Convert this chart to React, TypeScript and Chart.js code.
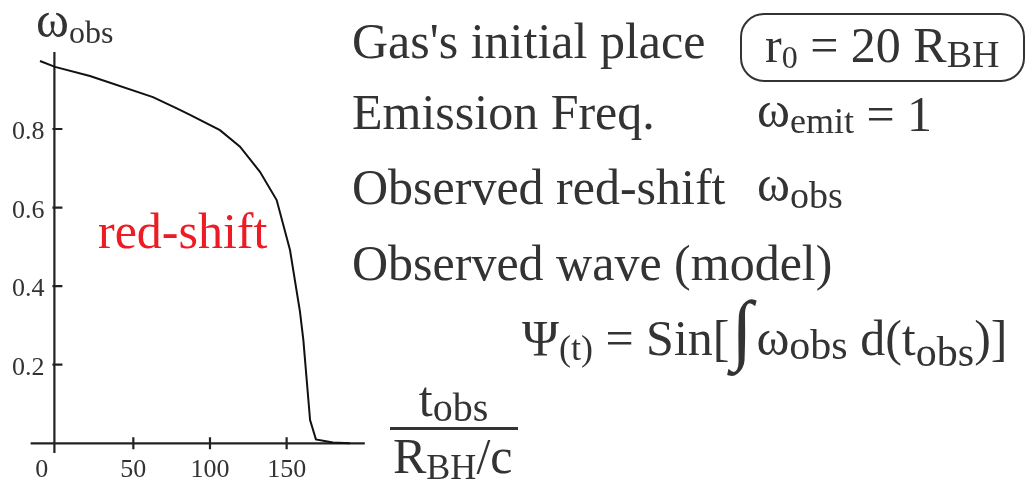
import React, { useEffect, useRef } from "react";
import { Chart, registerables } from "chart.js";

Chart.register(...registerables);

// ---- data ----
const T_OBS = [-10.9, -1.1, 21.7, 62.8, 78, 87, 106.5, 119.6, 132.6, 143.5, 152.2, 158.7, 160.9, 165.3, 169.1, 180.2, 191.2];
const OMEGA_OBS = [0.973, 0.958, 0.935, 0.881, 0.853, 0.836, 0.797, 0.755, 0.691, 0.619, 0.492, 0.335, 0.263, 0.059, 0.01, 0.002, 0.0];
const X_TICKS = [0, 50, 100, 150];
const Y_TICKS = [0.2, 0.4, 0.6, 0.8];
const X_TICK_LABELS = ["0", "50", "100", "150"];
const Y_TICK_LABELS = ["0.2", "0.4", "0.6", "0.8"];
const X_RANGE = [-1.5, 201];
const Y_RANGE = [0, 1];
const X_AXIS_START = -17;
const Y_AXIS_AT = -1.5;
const Y_AXIS_SPAN = [-0.025, 0.996];

const SERIF = '"Liberation Serif", "Times New Roman", serif';
const TEXT = "#333";

const axesPlugin = {
  id: "mathAxes",
  beforeDatasetsDraw(chart: any) {
    const { ctx, scales } = chart;
    const xs = scales.x;
    const ys = scales.y;
    const y0 = ys.getPixelForValue(0);
    const xa = xs.getPixelForValue(Y_AXIS_AT);
    ctx.save();
    ctx.strokeStyle = "#222";
    ctx.lineWidth = 2.2;
    ctx.beginPath();
    ctx.moveTo(xs.getPixelForValue(X_AXIS_START), y0);
    ctx.lineTo(xs.getPixelForValue(X_RANGE[1]), y0);
    ctx.moveTo(xa, ys.getPixelForValue(Y_AXIS_SPAN[1]));
    ctx.lineTo(xa, ys.getPixelForValue(Y_AXIS_SPAN[0]));
    for (const v of Y_TICKS) {
      const p = ys.getPixelForValue(v);
      ctx.moveTo(xa - 2, p);
      ctx.lineTo(xa + 8, p);
    }
    for (const v of X_TICKS) {
      if (v === 0) continue;
      const p = xs.getPixelForValue(v);
      ctx.moveTo(p, y0 - 6);
      ctx.lineTo(p, y0 + 6);
    }
    ctx.stroke();

    // tick labels, placed with the chart's scales
    ctx.fillStyle = TEXT;
    ctx.font = `26px ${SERIF}`;
    ctx.textBaseline = "alphabetic";
    ctx.textAlign = "right";
    Y_TICKS.forEach((v, i) => {
      ctx.fillText(Y_TICK_LABELS[i], xa - 10, ys.getPixelForValue(v) + 10);
    });
    ctx.textAlign = "center";
    X_TICKS.forEach((v, i) => {
      const shift = v === 0 ? -15 : 0; // the origin label sits left of the axis
      ctx.fillText(X_TICK_LABELS[i], xs.getPixelForValue(v) + shift, y0 + 33.5);
    });
    ctx.restore();
  },
};

function T({ x, y, size = 50, color = TEXT, children, family = SERIF }: any) {
  return (
    <div
      style={{
        position: "absolute",
        left: x,
        top: y - 0.3374 * size,
        fontSize: size,
        lineHeight: 0,
        whiteSpace: "nowrap",
        fontFamily: family,
        color,
      }}
    >
      {children}
    </div>
  );
}

function Sub({ size = 34, dy = 6, children }: any) {
  return <span style={{ fontSize: size, position: "relative", top: dy }}>{children}</span>;
}

function Up({ dy = -4, children }: any) {
  return <span style={{ position: "relative", top: dy }}>{children}</span>;
}

// a tall integral sign that does not disturb the line's baseline
function BigIntegral() {
  return (
    <span style={{ display: "inline-block", position: "relative", width: 27, height: 0 }}>
      <span style={{ position: "absolute", left: 2, top: -26, fontSize: 78, lineHeight: 0, display: "block" }}>∫</span>
    </span>
  );
}

export default function App() {
  const ref = useRef<HTMLCanvasElement | null>(null);

  useEffect(() => {
    if (!ref.current) return;
    const chart = new Chart(ref.current, {
      type: "scatter",
      data: {
        datasets: [
          {
            data: T_OBS.map((t, i) => ({ x: t, y: OMEGA_OBS[i] })),
            showLine: true,
            borderColor: "#111",
            borderWidth: 2,
            pointRadius: 0,
            tension: 0,
            clip: false as any,
          },
        ],
      },
      options: {
        animation: false,
        responsive: false,
        devicePixelRatio: 1,
        layout: { padding: { top: 50.4, right: 1027 - 364.8, left: 0, bottom: 0 } },
        plugins: { legend: { display: false }, tooltip: { enabled: false } },
        events: [],
        scales: {
          x: {
            type: "linear",
            min: X_RANGE[0],
            max: X_RANGE[1],
            border: { display: false },
            grid: { display: false, drawTicks: false },
            ticks: { display: false, stepSize: 50 },
            afterFit: (s: any) => {
              s.height = 493 - 443.3;
            },
          },
          y: {
            type: "linear",
            min: Y_RANGE[0],
            max: Y_RANGE[1],
            border: { display: false },
            grid: { display: false, drawTicks: false },
            ticks: { display: false, stepSize: 0.2 },
            afterFit: (s: any) => {
              s.width = 54.4;
            },
          },
        },
      },
      plugins: [axesPlugin],
    });
    return () => chart.destroy();
  }, []);

  return (
    <div style={{ position: "absolute", left: 0, top: 0, width: 1027, height: 493, background: "#fff", overflow: "hidden" }}>
      <canvas ref={ref} width={1027} height={493} style={{ position: "absolute", left: 0, top: 0, width: 1027, height: 493 }} />

      {/* y-axis title */}
      <T x={36} y={37} size={50}>
        ω<Sub size={32} dy={6}>obs</Sub>
      </T>

      {/* in-plot label */}
      <T x={98} y={248} size={50} color="#ed1c24">red-shift</T>

      {/* x-axis title as a fraction */}
      <div style={{ position: "absolute", left: 390, width: 127, top: 416 - 0.3374 * 50, fontSize: 50, lineHeight: 0, fontFamily: SERIF, color: TEXT, whiteSpace: "nowrap", textAlign: "center" }}>
        t<Sub size={40} dy={5}>obs</Sub>
      </div>
      <div style={{ position: "absolute", left: 390, top: 427, width: 128, height: 3, background: TEXT }} />
      <T x={393} y={473} size={50}>
        R<Sub size={36} dy={6}>BH</Sub>/c
      </T>

      {/* right-hand annotations */}
      <T x={352} y={58}>Gas's initial place</T>
      <div style={{ position: "absolute", left: 740, top: 13, width: 285, height: 69, boxSizing: "border-box", border: `2px solid ${TEXT}`, borderRadius: 24 }} />
      <T x={765} y={62}>
        r<Sub size={32} dy={6}>0</Sub> = 20 R<Sub size={38} dy={5}>BH</Sub>
      </T>

      <T x={352} y={129}>Emission Freq.</T>
      <T x={757} y={131}>
        <Up dy={-4}>ω</Up><Sub size={36} dy={2}>emit</Sub> = 1
      </T>

      <T x={352} y={204}>Observed red-shift</T>
      <T x={757} y={204}>
        <Up dy={-3}>ω</Up><Sub size={38} dy={4}>obs</Sub>
      </T>

      <T x={352} y={280}>Observed wave (model)</T>

      <T x={522} y={355}>
        Ψ<Sub size={36} dy={5}>(t)</Sub> = Sin[<BigIntegral />ω<Sub size={42} dy={4}>obs</Sub> d(t<Sub size={42} dy={11}>obs</Sub>)]
      </T>
    </div>
  );
}
